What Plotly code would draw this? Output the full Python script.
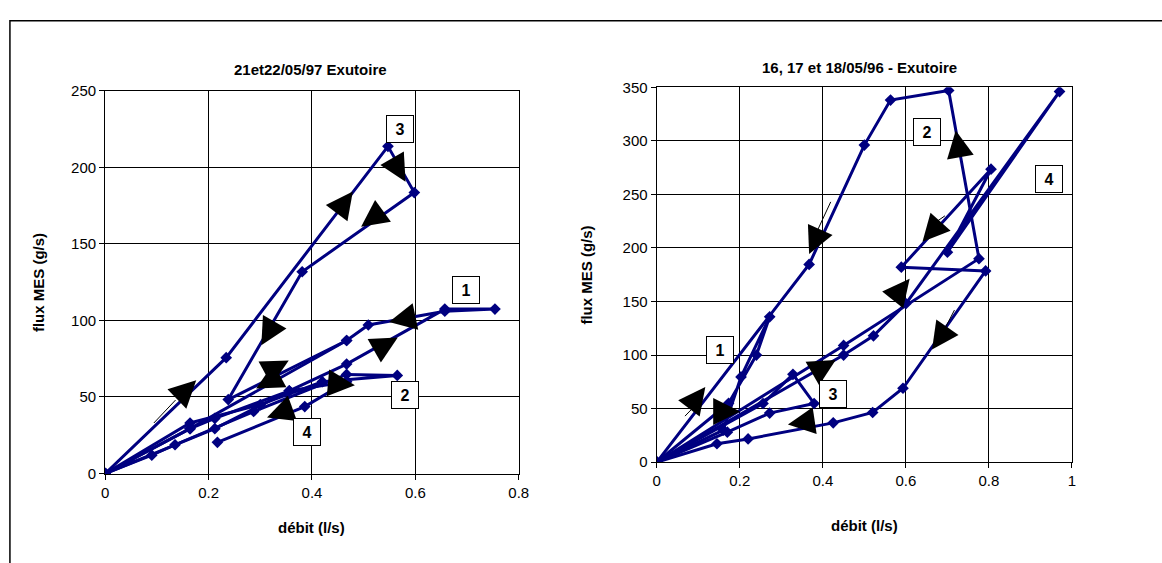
import plotly.graph_objects as go

NAVY = "#000080"
FONT = "Liberation Sans, Arial, sans-serif"

# ---------------- Left chart : 21et22/05/97 Exutoire ----------------
L_title = "21et22/05/97 Exutoire"
L_ev1_x = [0, 0.212, 0.356, 0.467, 0.657, 0.754, 0.657, 0.509, 0.467, 0.164, 0]
L_ev1_y = [0, 29.3, 54, 71.5, 107.4, 107.4, 106, 97, 86.9, 29.3, 0]
L_ev2_x = [0, 0.09, 0.135, 0.287, 0.467, 0.565, 0.42, 0.30, 0.164, 0]
L_ev2_y = [0, 12, 18.8, 40.5, 64.7, 64.1, 60, 45, 33, 0]
L_ev3_x = [0, 0.234, 0.547, 0.598, 0.381, 0.238, 0.467]
L_ev3_y = [0, 75.7, 213.7, 183.5, 131.8, 48.3, 86.9]
L_ev4_x = [0.217, 0.386, 0.467, 0.356, 0.212, 0.164, 0]
L_ev4_y = [20.4, 43.7, 60, 54, 36, 29.3, 0]
L_arrow_x = [0.176, 0.302, 0.355, 0.292, 0.313, 0.581, 0.479, 0.495, 0.549, 0.566, 0.483]
L_arrow_y = [61.0, 83.8, 73.9, 55.6, 36.6, 190.6, 184.2, 161.2, 98.9, 88.8, 57.7]
L_arrow_angle = [45.7, 209.6, 61.3, 241.3, 250.3, 150.2, 36.8, 234.2, 258.1, 60.6, 95]
L_shaft_x = [0.094, 0.136]
L_shaft_y = [33, 48]
L_lab_text = ["1", "2", "3", "4"]
L_lab_x = [0.698, 0.579, 0.571, 0.391]
L_lab_y = [120, 51, 225, 27]

# ---------------- Right chart : 16, 17 et 18/05/96 - Exutoire ----------------
R_title = "16, 17 et 18/05/96 - Exutoire"
R_ev1_x = [0, 0.16, 0.203, 0.272, 0.24, 0.173, 0]
R_ev1_y = [0, 30, 79.6, 135.7, 100, 55, 0]
R_ev2_x = [0, 0.367, 0.50, 0.563, 0.703, 0.776, 0.45, 0]
R_ev2_y = [0, 184.6, 296, 338, 347, 190, 109, 0]
R_ev3_x = [0, 0.256, 0.328, 0.379, 0.272, 0.17, 0]
R_ev3_y = [0, 54.8, 82, 54.8, 45.8, 28, 0]
R_ev4_x = [0, 0.45, 0.522, 0.60, 0.97, 0.70, 0.805, 0.589, 0.792, 0.593, 0.52, 0.425, 0.22, 0.145, 0]
R_ev4_y = [0, 100, 118, 148, 346, 196, 273.5, 182, 178.5, 69, 46.4, 36.7, 21.7, 17.2, 0]
R_arrow_x = [0.367, 0.720, 0.640, 0.609, 0.663, 0.316, 0.117, 0.201, 0.431]
R_arrow_y = [194.3, 309.6, 205.8, 171.2, 105.3, 35.1, 70.3, 47.3, 95.4]
R_arrow_angle = [204.3, -9.95, 222, 38.8, 214.7, 261.5, 37.4, 90, 59.9]
R_shaft_x = [0.419, 0.383, None, 0.717, 0.689, None, 0.068, 0.098, None, 0.672, 0.694]
R_shaft_y = [243, 213, None, 142, 121, None, 43, 55, None, 224, 230]
R_lab_text = ["1", "2", "3", "4"]
R_lab_x = [0.153, 0.651, 0.424, 0.945]
R_lab_y = [104.8, 308, 63.6, 264.5]

W, H = 1162, 563
fig = go.Figure()

def add_series(xs, ys, xa, ya):
    fig.add_trace(go.Scatter(x=xs, y=ys, mode="lines+markers", xaxis=xa, yaxis=ya,
                             line=dict(color=NAVY, width=3),
                             marker=dict(symbol="diamond", size=9, color=NAVY),
                             showlegend=False, hoverinfo="skip"))

for xs, ys in [(L_ev1_x, L_ev1_y), (L_ev2_x, L_ev2_y), (L_ev3_x, L_ev3_y), (L_ev4_x, L_ev4_y)]:
    add_series(xs, ys, "x", "y")
for xs, ys in [(R_ev1_x, R_ev1_y), (R_ev2_x, R_ev2_y), (R_ev3_x, R_ev3_y), (R_ev4_x, R_ev4_y)]:
    add_series(xs, ys, "x2", "y2")

# thin arrow shafts
fig.add_trace(go.Scatter(x=L_shaft_x, y=L_shaft_y, mode="lines", xaxis="x", yaxis="y",
                         line=dict(color="black", width=1), showlegend=False, hoverinfo="skip"))
fig.add_trace(go.Scatter(x=R_shaft_x, y=R_shaft_y, mode="lines", xaxis="x2", yaxis="y2",
                         line=dict(color="black", width=1), showlegend=False, hoverinfo="skip",
                         connectgaps=False))

# arrow heads
fig.add_trace(go.Scatter(x=L_arrow_x, y=L_arrow_y, mode="markers", xaxis="x", yaxis="y",
                         marker=dict(symbol="arrow-up", size=27, color="black", angle=L_arrow_angle,
                                     line=dict(width=0)),
                         showlegend=False, hoverinfo="skip"))
fig.add_trace(go.Scatter(x=R_arrow_x, y=R_arrow_y, mode="markers", xaxis="x2", yaxis="y2",
                         marker=dict(symbol="arrow-up", size=27, color="black", angle=R_arrow_angle,
                                     line=dict(width=0)),
                         showlegend=False, hoverinfo="skip"))

annotations = []
for t, x, y in zip(L_lab_text, L_lab_x, L_lab_y):
    annotations.append(dict(text="<b>%s</b>" % t, x=x, y=y, xref="x", yref="y", showarrow=False,
                            xanchor="center", yanchor="middle",
                            bgcolor="white", bordercolor="black", borderwidth=1, borderpad=2,
                            width=22, height=22, font=dict(family=FONT, size=16, color="black")))
for t, x, y in zip(R_lab_text, R_lab_x, R_lab_y):
    annotations.append(dict(text="<b>%s</b>" % t, x=x, y=y, xref="x2", yref="y2", showarrow=False,
                            xanchor="center", yanchor="middle",
                            bgcolor="white", bordercolor="black", borderwidth=1, borderpad=2,
                            width=22, height=22, font=dict(family=FONT, size=16, color="black")))

def px_x(p):
    return p / W

def px_y(p):
    return (H - p) / H

title_font = dict(family=FONT, size=15, color="black")
axis_title_font = dict(family=FONT, size=15, color="black")

def paper_text(text, x, y, font, angle=0):
    return dict(text=text, x=px_x(x), y=px_y(y), xref="paper", yref="paper",
                xanchor="center", yanchor="middle", showarrow=False, textangle=angle, font=font)

annotations += [
    paper_text("<b>%s</b>" % L_title, 310, 62, title_font),
    paper_text("<b>%s</b>" % R_title, 866, 60, title_font),
    paper_text("<b>flux MES (g/s)</b>", 35, 282, axis_title_font, -90),
    paper_text("<b>flux MES (g/s)</b>", 590, 274, axis_title_font, -90),
    paper_text("<b>débit (l/s)</b>", 311, 535, axis_title_font),
    paper_text("<b>débit (l/s)</b>", 871, 533, axis_title_font),
]

axis_common = dict(showline=True, mirror=True, linecolor="black", linewidth=1.3,
                   showgrid=True, gridcolor="black", gridwidth=1, zeroline=False,
                   ticks="outside", ticklen=5, tickcolor="black",
                   tickfont=dict(family=FONT, size=15, color="black"), fixedrange=True)

fig.update_layout(
    autosize=True,
    margin=dict(l=0, r=0, t=0, b=0, pad=0),
    paper_bgcolor="white", plot_bgcolor="white",
    xaxis=dict(domain=[px_x(102.5), px_x(521)], range=[0, 0.8], dtick=0.2, anchor="y", **axis_common),
    yaxis=dict(domain=[px_y(479), px_y(84.3)], range=[0, 250], dtick=50, anchor="x", **axis_common),
    xaxis2=dict(domain=[px_x(660.7), px_x(1081)], range=[0, 1], dtick=0.2, anchor="y2", **axis_common),
    yaxis2=dict(domain=[px_y(467.3), px_y(80.7)], range=[0, 350], dtick=50, anchor="x2", **axis_common),
    annotations=annotations,
    shapes=[dict(type="rect", xref="paper", yref="paper", x0=px_x(6), x1=1.02, y0=-0.02, y1=px_y(12),
                 line=dict(color="black", width=1.5), fillcolor="rgba(0,0,0,0)", layer="above")],
    showlegend=False,
)

post = (
    "document.documentElement.style.margin='0';"
    "document.documentElement.style.overflow='hidden';"
    "document.body.style.margin='0';document.body.style.padding='0';"
    "document.body.style.overflow='hidden';"
    "var g=document.querySelector('.plotly-graph-div');"
    "g.style.position='fixed';g.style.left='0px';g.style.top='0px';"
    "g.style.width='100vw';g.style.height='100vh';"
    "Plotly.Plots.resize(g);"
)
fig.write_html("out.html", config={"displayModeBar": False, "responsive": True},
               default_width="100vw", default_height="100vh", post_script=post)
